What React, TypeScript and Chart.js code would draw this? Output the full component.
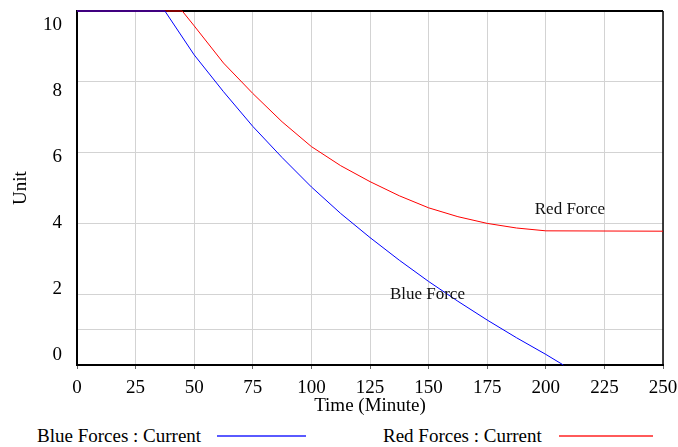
import React, { useEffect, useRef } from "react";
import { Chart, registerables } from "chart.js";

Chart.register(...registerables);

const FONT = '"Liberation Serif", "Times New Roman", serif';

// Series (time in minutes, value in units)
const blueTimes = [0, 37.5, 50, 62.5, 75, 87.5, 100, 112.5, 125, 137.5, 150, 162.5, 175, 187.5, 200, 207.5];
const blueUnits = [10, 10, 8.76, 7.72, 6.74, 5.86, 5.03, 4.28, 3.6, 2.96, 2.36, 1.8, 1.27, 0.77, 0.3, 0];

const redTimes = [0, 44.9, 50, 62.5, 75, 87.5, 100, 112.5, 125, 137.5, 150, 162.5, 175, 187.5, 200, 250];
const redUnits = [10, 10, 9.58, 8.53, 7.67, 6.87, 6.17, 5.63, 5.18, 4.78, 4.44, 4.19, 4.0, 3.87, 3.79, 3.78];

const timeTicks = [0, 25, 50, 75, 100, 125, 150, 175, 200, 225, 250];
const unitTickLabels = [0, 2, 4, 6, 8, 10];
const unitGridLines = [0, 1, 2, 4, 6, 8, 10];

const seriesNames = ["Blue Forces : Current", "Red Forces : Current"];
const seriesColors = ["#0000ff", "#ff0000"];
const legendLineColors = ["#5a5aff", "#ff5a5a"];

const curveLabels = ["Red Force", "Blue Force"];
const curveLabelTimes = [210.3, 149.5];
const curveLabelUnits = [4.38, 1.98];

const zeroPadding = (s: any) => {
  s.paddingTop = 0;
  s.paddingBottom = 0;
  s.paddingLeft = 0;
  s.paddingRight = 0;
};

export default function App() {
  const canvasRef = useRef<HTMLCanvasElement | null>(null);

  useEffect(() => {
    const canvas = canvasRef.current;
    if (!canvas) return;

    const framePlugin = {
      id: "frame",
      beforeDatasetsDraw(chart: any) {
        const { ctx, chartArea } = chart;
        const { left, top, right, bottom } = chartArea;
        ctx.save();
        ctx.strokeStyle = "#000";
        ctx.lineWidth = 2;
        ctx.beginPath();
        ctx.moveTo(left, top);
        ctx.lineTo(right, top);
        ctx.stroke();
        ctx.lineWidth = 1.5;
        ctx.beginPath();
        ctx.moveTo(right, top);
        ctx.lineTo(right, bottom);
        ctx.stroke();
        ctx.restore();
      },
    };

    const curveLabelPlugin = {
      id: "curveLabels",
      afterDatasetsDraw(chart: any) {
        const { ctx, scales } = chart;
        ctx.save();
        ctx.font = `17px ${FONT}`;
        ctx.fillStyle = "#111";
        ctx.textAlign = "center";
        ctx.textBaseline = "middle";
        curveLabels.forEach((txt, i) => {
          ctx.fillText(
            txt,
            scales.x.getPixelForValue(curveLabelTimes[i]),
            scales.y.getPixelForValue(curveLabelUnits[i])
          );
        });
        ctx.restore();
      },
    };

    const font = { family: FONT, size: 19 };

    const chart = new Chart(canvas, {
      type: "line",
      data: {
        datasets: [
          {
            label: seriesNames[0],
            data: blueTimes.map((t, i) => ({ x: t, y: blueUnits[i] })),
            borderColor: seriesColors[0],
            backgroundColor: seriesColors[0],
            borderWidth: 1,
            pointRadius: 0,
            tension: 0,
            clip: false,
            xAxisID: "x",
            yAxisID: "y",
          },
          {
            label: seriesNames[1],
            data: redTimes.map((t, i) => ({ x: t, y: redUnits[i] })),
            borderColor: seriesColors[1],
            backgroundColor: seriesColors[1],
            borderWidth: 1,
            pointRadius: 0,
            tension: 0,
            clip: false,
            xAxisID: "x",
            yAxisID: "y",
          },
        ],
      },
      options: {
        animation: false,
        responsive: false,
        devicePixelRatio: 1,
        events: [],
        layout: { padding: { top: 11, right: 15, left: 0, bottom: 0 } },
        plugins: {
          legend: { display: false },
          tooltip: { enabled: false },
        },
        scales: {
          x: {
            type: "linear",
            position: "bottom",
            min: 0,
            max: 250,
            afterBuildTicks: (s: any) => {
              s.ticks = timeTicks.map((v) => ({ value: v }));
            },
            ticks: { font, color: "#000", padding: 8, maxRotation: 0, autoSkip: false },
            grid: { color: "#d3d3d3", lineWidth: 1, drawTicks: true, tickLength: 4, tickColor: "#666" },
            border: { display: true, color: "#000", width: 2 },
            title: {
              display: true,
              text: "Time (Minute)",
              font,
              color: "#000",
              padding: { top: 0, bottom: 3 },
            },
            afterFit: (s: any) => {
              s.height = 55;
              zeroPadding(s);
            },
          },
          y: {
            type: "linear",
            position: "left",
            weight: 0,
            min: 0,
            max: 10,
            afterBuildTicks: (s: any) => {
              s.ticks = unitGridLines.map((v) => ({ value: v }));
            },
            ticks: { display: false },
            grid: { color: "#d3d3d3", lineWidth: 1, drawTicks: false },
            border: { display: true, color: "#000", width: 2 },
            afterFit: (s: any) => {
              s.width = 0;
              zeroPadding(s);
            },
          },
          yl: {
            type: "linear",
            position: "left",
            weight: 1,
            min: -0.303,
            max: 10.424,
            afterBuildTicks: (s: any) => {
              s.ticks = unitTickLabels.map((v) => ({ value: v }));
            },
            ticks: { font, color: "#000", padding: 15 },
            grid: { display: false, drawTicks: false },
            border: { display: false },
            title: {
              display: true,
              text: "Unit",
              font,
              color: "#000",
              padding: { top: 10, bottom: 0 },
            },
            afterFit: (s: any) => {
              s.width = 77;
              zeroPadding(s);
            },
          },
        },
      } as any,
      plugins: [framePlugin, curveLabelPlugin],
    });

    return () => chart.destroy();
  }, []);

  const legendTextLeft = [37, 383];
  const legendLineLeft = [217, 559];
  const legendLineWidth = [89, 94];

  return (
    <div
      style={{
        position: "absolute",
        left: 0,
        top: 0,
        width: 678,
        height: 447,
        background: "#fff",
        fontFamily: FONT,
        overflow: "hidden",
      }}
    >
      <canvas ref={canvasRef} width={678} height={420} style={{ display: "block", width: 678, height: 420 }} />
      {seriesNames.map((name, i) => (
        <React.Fragment key={name}>
          <div
            style={{
              position: "absolute",
              left: legendTextLeft[i],
              top: 424,
              fontSize: 19,
              lineHeight: "24px",
              whiteSpace: "nowrap",
              color: "#000",
            }}
          >
            {name}
          </div>
          <div
            style={{
              position: "absolute",
              left: legendLineLeft[i],
              top: 435,
              width: legendLineWidth[i],
              height: 2,
              background: legendLineColors[i],
            }}
          />
        </React.Fragment>
      ))}
    </div>
  );
}
